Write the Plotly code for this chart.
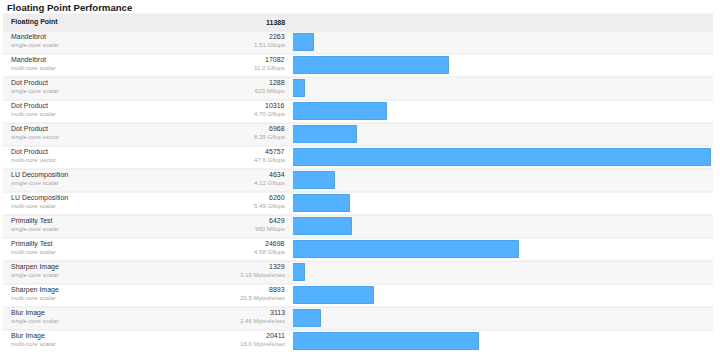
import plotly.graph_objects as go

title = "Floating Point Performance"
section = "Floating Point"
section_score = 11388

names = ["Mandelbrot", "Mandelbrot", "Dot Product", "Dot Product", "Dot Product", "Dot Product",
         "LU Decomposition", "LU Decomposition", "Primality Test", "Primality Test",
         "Sharpen Image", "Sharpen Image", "Blur Image", "Blur Image"]
modes = ["single-core scalar", "multi-core scalar", "single-core scalar", "multi-core scalar",
         "single-core vector", "multi-core vector", "single-core scalar", "multi-core scalar",
         "single-core scalar", "multi-core scalar", "single-core scalar", "multi-core scalar",
         "single-core scalar", "multi-core scalar"]
scores = [2263, 17082, 1288, 10316, 6968, 45757, 4634, 6260, 6429, 24698, 1329, 8893, 3113, 20411]
rates = ["1.51 Gflops", "11.2 Gflops", "623 Mflops", "4.70 Gflops", "8.35 Gflops", "47.6 Gflops",
         "4.12 Gflops", "5.49 Gflops", "960 Mflops", "4.58 Gflops", "3.10 Mpixels/sec",
         "20.5 Mpixels/sec", "2.46 Mpixels/sec", "16.0 Mpixels/sec"]

W, H = 720, 361
n = len(scores)
rows = list(range(n))
row_px = 23.0
first_center = 42.5
y_top = -first_center / row_px
y_bot = (H - first_center) / row_px

FONT = "Liberation Sans, Arial, sans-serif"
bar_left = 293 / W
bar_right = 711 / W

fig = go.Figure()
fig.add_trace(go.Bar(
    x=scores, y=rows, orientation="h", width=0.7,
    marker=dict(color="#54b1ff", line=dict(color="#4ba4f2", width=1)),
    hoverinfo="x",
))

shapes = []
x0p, x1p = 3 / W, 713 / W
# header row
shapes.append(dict(type="rect", xref="paper", yref="y", x0=x0p, x1=x1p,
                   y0=-0.5 - 17.5 / row_px, y1=-0.5, fillcolor="#eeeeee",
                   line=dict(width=0), layer="below"))
for i in rows:
    shapes.append(dict(type="rect", xref="paper", yref="y", x0=x0p, x1=x1p,
                       y0=i - 0.5, y1=i + 0.5,
                       fillcolor="#f7f7f7" if i % 2 == 0 else "#ffffff",
                       line=dict(width=0), layer="below"))
    shapes.append(dict(type="line", xref="paper", yref="y", x0=x0p, x1=x1p,
                       y0=i - 0.5, y1=i - 0.5, line=dict(color="#e8e8e8", width=1),
                       layer="below"))

annotations = []
annotations.append(dict(text="<b>" + title + "</b>", xref="paper", yref="paper",
                        x=5 / W, y=1 - 7 / H, xanchor="left", yanchor="middle",
                        showarrow=False, font=dict(family=FONT, size=9.6, color="#1a1a1a")))
hy = -0.5 - 8.8 / row_px
annotations.append(dict(text="<b>" + section + "</b>", xref="paper", yref="y",
                        x=9 / W, y=hy, xanchor="left", yanchor="middle", showarrow=False,
                        font=dict(family=FONT, size=7, color="#222222")))
annotations.append(dict(text="<b>" + str(section_score) + "</b>", xref="paper", yref="y",
                        x=287 / W, y=hy, xanchor="right", yanchor="middle", showarrow=False,
                        font=dict(family=FONT, size=7, color="#222222")))
for i in rows:
    annotations.append(dict(text=names[i], xref="paper", yref="y", x=9 / W, y=i,
                            yshift=5.8, xanchor="left", yanchor="middle", showarrow=False,
                            font=dict(family=FONT, size=7, color="#333333")))
    annotations.append(dict(text=modes[i], xref="paper", yref="y", x=9 / W, y=i,
                            yshift=-1.9, xanchor="left", yanchor="middle", showarrow=False,
                            font=dict(family=FONT, size=6.1, color="#a8a8a8")))
    annotations.append(dict(text=str(scores[i]), xref="paper", yref="y", x=287 / W, y=i,
                            yshift=5.8, xanchor="right", yanchor="middle", showarrow=False,
                            font=dict(family=FONT, size=7, color="#333333")))
    annotations.append(dict(text=rates[i], xref="paper", yref="y", x=287 / W, y=i,
                            yshift=-1.9, xanchor="right", yanchor="middle", showarrow=False,
                            font=dict(family=FONT, size=6.1, color="#a8a8a8")))

fig.update_layout(
    width=W, height=H, margin=dict(l=0, r=0, t=0, b=0),
    paper_bgcolor="#ffffff", plot_bgcolor="rgba(0,0,0,0)",
    showlegend=False, shapes=shapes, annotations=annotations,
    xaxis=dict(domain=[bar_left, bar_right], range=[0, max(scores)], visible=False,
               fixedrange=True),
    yaxis=dict(domain=[0, 1], range=[y_bot, y_top], visible=False, fixedrange=True),
    bargap=0,
)

fig.write_html("out.html", config={"displayModeBar": False},
               post_script="document.body.style.margin='0';document.body.style.overflow='hidden';")
